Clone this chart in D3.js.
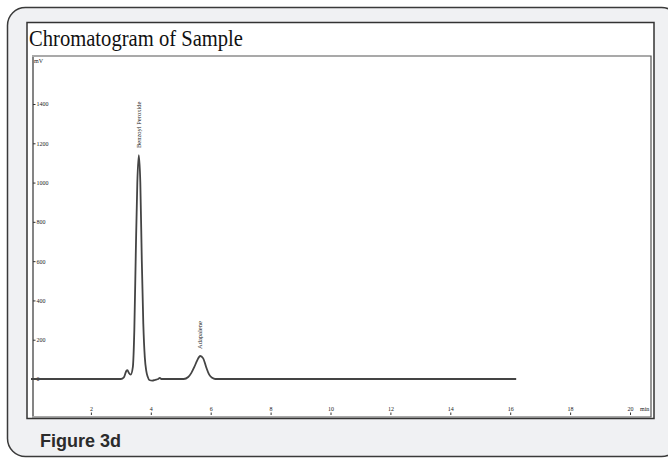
<!DOCTYPE html>
<html>
<head>
  <meta charset="utf-8">
  <style>
    body { margin: 0; background: #fff; }
    .tiny { font-family: "Liberation Serif", serif; font-size: 6px; fill: #222; }
  </style>
</head>
<body>
  <script src="https://d3js.org/d3.v7.min.js"></script>
  <svg width="668" height="461"></svg>

  <script>
    // retention time (min) and detector signal (mV)
    var times = [0, 3.00, 3.10, 3.18, 3.22, 3.27, 3.33, 3.40, 3.45, 3.50, 3.55, 3.60, 3.65, 3.70, 3.75, 3.80,
                 3.85, 3.90, 3.95, 4.05, 4.15, 4.25, 4.30, 4.35, 5.10, 5.25, 5.35, 5.45, 5.55, 5.65,
                 5.75, 5.85, 5.95, 6.05, 6.15, 16.2];
    var signal = [0, 0, 8, 40, 45, 30, 22, 60, 250, 650, 1000, 1140, 1000, 600, 280, 110,
                  40, 10, -5, -8, -4, 0, 6, 0, 0, 10, 30, 60, 95, 117,
                  105, 60, 22, 6, 0, 0];

    var peakNames = ["Benzoyl Peroxide", "Adapalene"];
    var peakTimes = [3.60, 5.65];
    var peakHeights = [1140, 117];

    var xTicks = [2, 4, 6, 8, 10, 12, 14, 16, 18, 20];
    var yTicks = [0, 200, 400, 600, 800, 1000, 1200, 1400];

    var svg = d3.select("svg");

    // outer grey card
    svg.append("rect")
      .attr("x", 7.5).attr("y", 7.5)
      .attr("width", 672).attr("height", 449)
      .attr("rx", 18)
      .attr("fill", "#f0f1f3")
      .attr("stroke", "#3a3a3a")
      .attr("stroke-width", 1.5);

    // white chart panel
    svg.append("rect")
      .attr("x", 27).attr("y", 22.5)
      .attr("width", 627).attr("height", 396)
      .attr("fill", "#fff")
      .attr("stroke", "#333")
      .attr("stroke-width", 1.5);

    svg.append("text")
      .attr("x", 29).attr("y", 46)
      .attr("textLength", 214)
      .attr("lengthAdjust", "spacingAndGlyphs")
      .style("font-family", "'Liberation Serif', 'Times New Roman', serif")
      .style("font-size", "23px")
      .style("fill", "#111")
      .text("Chromatogram of Sample");

    // inner plot frame
    svg.append("path")
      .attr("d", "M32,56 H651 V417 H32")
      .attr("fill", "none")
      .attr("stroke", "#555")
      .attr("stroke-width", 1.2);

    var x = d3.scaleLinear().domain([0, 20]).range([31, 630]),
        y = d3.scaleLinear().domain([0, 1400]).range([379, 104]);

    // y axis
    svg.append("line")
      .attr("x1", 33).attr("x2", 33)
      .attr("y1", 57).attr("y2", 416)
      .attr("stroke", "#777")
      .attr("stroke-width", 1.8);

    var gy = svg.append("g")
      .attr("transform", "translate(33,0)")
      .call(d3.axisRight(y).tickValues(yTicks).tickSize(2.5).tickPadding(1).tickFormat(d3.format("d")));
    gy.select(".domain").remove();
    gy.selectAll("line").attr("stroke", "#333");
    gy.selectAll("text").attr("class", "tiny").attr("font-size", null).attr("font-family", null);

    svg.append("text").attr("class", "tiny")
      .attr("x", 34).attr("y", 63)
      .text("mV");

    // x axis: labels above small tick marks
    var gx = svg.append("g")
      .attr("transform", "translate(0,415)")
      .call(d3.axisTop(x).tickValues(xTicks).tickSize(2.5).tickPadding(1.5));
    gx.select(".domain").remove();
    gx.selectAll("line").attr("stroke", "#333");
    gx.selectAll("text").attr("class", "tiny").attr("font-size", null).attr("font-family", null);

    svg.append("text").attr("class", "tiny")
      .attr("x", 640).attr("y", 411)
      .text("min");

    // trace
    var pts = times.map(function(t, i) { return [t, signal[i]]; });
    var line = d3.line()
      .x(function(d) { return x(d[0]); })
      .y(function(d) { return y(d[1]); })
      .curve(d3.curveMonotoneX);

    svg.append("path")
      .datum(pts)
      .attr("fill", "none")
      .attr("stroke", "#444")
      .attr("stroke-width", 1.8)
      .attr("stroke-linejoin", "round")
      .attr("d", line);

    // peak names, vertical above each apex
    svg.selectAll(".peak")
      .data(peakNames)
      .enter().append("text")
      .attr("class", "tiny peak")
      .attr("transform", function(d, i) {
        return "translate(" + (x(peakTimes[i]) + 2) + "," + (y(peakHeights[i]) - 7) + ") rotate(-90)";
      })
      .style("font-size", "6.5px")
      .text(function(d) { return d; });

    svg.append("text")
      .attr("x", 40).attr("y", 447)
      .style("font-family", "'Liberation Sans', Arial, sans-serif")
      .style("font-size", "18px")
      .style("font-weight", "bold")
      .style("fill", "#2b2b2b")
      .text("Figure 3d");
  </script>
</body>
</html>
